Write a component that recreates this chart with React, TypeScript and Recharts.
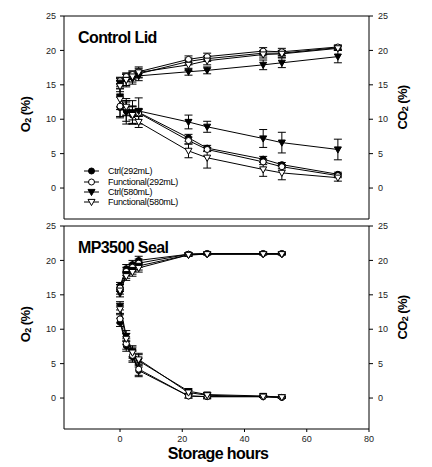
import { LineChart, Line, XAxis, YAxis, ErrorBar, ReferenceLine, Legend } from "recharts";

const FONT = "'Liberation Sans', Arial, sans-serif";

const hoursLid = [0, 2, 4, 6, 22, 28, 46, 52, 70];
const hoursSeal = [0, 2, 4, 6, 22, 28, 46, 52];

const xTicks = [0, 20, 40, 60, 80];
const yTicks = [0, 5, 10, 15, 20, 25];

// Control Lid - O2 (%)
const lidO2Ctrl292 = [15.5, 16.0, 16.3, 16.6, 18.4, 18.8, 19.6, 19.6, 20.4];
const lidO2Func292 = [15.6, 16.2, 16.5, 16.9, 18.7, 19.1, 19.9, 19.8, 20.5];
const lidO2Ctrl580 = [15.3, 15.7, 15.9, 16.3, 16.9, 17.1, 17.9, 18.2, 19.1];
const lidO2Func580 = [14.8, 15.7, 16.2, 16.8, 17.9, 18.5, 19.4, 19.5, 20.3];
const lidO2Ctrl292Err = [0.4, 0.5, 0.5, 0.5, 0.5, 0.4, 0.4, 0.4, 0.3];
const lidO2Func292Err = [0.4, 0.5, 0.5, 0.5, 0.5, 0.5, 0.5, 0.5, 0.3];
const lidO2Ctrl580Err = [0.8, 0.8, 0.8, 0.7, 0.5, 0.5, 0.7, 0.7, 0.9];
const lidO2Func580Err = [0.8, 1.0, 0.8, 0.8, 0.8, 0.6, 0.5, 0.5, 0.3];

// Control Lid - CO2 (%)
const lidCO2Ctrl292 = [11.7, 11.2, 10.6, 11.0, 7.3, 5.8, 4.2, 3.4, 2.0];
const lidCO2Func292 = [11.9, 11.5, 10.9, 10.9, 6.9, 5.6, 3.8, 3.1, 1.8];
const lidCO2Ctrl580 = [13.3, 11.0, 11.0, 11.2, 9.6, 8.9, 7.2, 6.6, 5.6];
const lidCO2Func580 = [12.9, 11.8, 10.6, 9.6, 5.4, 4.4, 2.7, 2.2, 1.5];
const lidCO2Ctrl292Err = [1.5, 1.5, 1.3, 0.5, 0.5, 0.4, 0.4, 0.3, 0.3];
const lidCO2Func292Err = [1.5, 1.0, 1.0, 0.5, 0.5, 0.3, 0.4, 0.3, 0.3];
const lidCO2Ctrl580Err = [1.5, 1.7, 1.7, 1.9, 1.0, 0.8, 1.3, 1.5, 1.5];
const lidCO2Func580Err = [1.5, 1.2, 1.2, 0.8, 1.0, 1.5, 1.0, 1.0, 0.5];

// MP3500 Seal - O2 (%)
const sealO2Ctrl292 = [16.3, 18.8, 19.4, 20.0, 20.9, 21.0, 21.0, 21.0];
const sealO2Func292 = [16.0, 18.4, 19.0, 19.6, 20.9, 21.0, 21.0, 21.0];
const sealO2Ctrl580 = [15.2, 18.0, 18.6, 19.2, 20.8, 20.9, 20.9, 20.9];
const sealO2Func580 = [15.6, 17.7, 18.3, 18.9, 20.8, 20.9, 20.9, 20.9];
const sealO2Err = [0.5, 0.6, 0.6, 0.6, 0.2, 0.1, 0.1, 0.1];

// MP3500 Seal - CO2 (%)
const sealCO2Ctrl292 = [11.0, 7.6, 6.0, 4.0, 0.3, 0.2, 0.2, 0.1];
const sealCO2Func292 = [11.5, 7.9, 6.2, 4.2, 0.3, 0.2, 0.2, 0.1];
const sealCO2Ctrl580 = [13.4, 9.0, 6.8, 5.4, 1.0, 0.5, 0.3, 0.1];
const sealCO2Func580 = [12.9, 8.6, 6.6, 5.6, 0.8, 0.4, 0.2, 0.1];
const sealCO2Err = [0.6, 0.8, 0.8, 0.9, 0.3, 0.3, 0.1, 0.1];

const legendNames = ["Ctrl(292mL)", "Functional(292mL)", "Ctrl(580mL)", "Functional(580mL)"];
const markerKinds = ["fc", "oc", "ft", "ot"];

const toPoints = (hours: number[], vals: number[], errs: number[]) =>
  hours.map((t, i) => ({ t, v: vals[i], e: errs[i] }));

const lidSeries = [
  { id: "lo1", axis: "left", kind: "fc", pts: toPoints(hoursLid, lidO2Ctrl292, lidO2Ctrl292Err) },
  { id: "lo2", axis: "left", kind: "oc", pts: toPoints(hoursLid, lidO2Func292, lidO2Func292Err) },
  { id: "lo3", axis: "left", kind: "ft", pts: toPoints(hoursLid, lidO2Ctrl580, lidO2Ctrl580Err) },
  { id: "lo4", axis: "left", kind: "ot", pts: toPoints(hoursLid, lidO2Func580, lidO2Func580Err) },
  { id: "lc1", axis: "right", kind: "fc", pts: toPoints(hoursLid, lidCO2Ctrl292, lidCO2Ctrl292Err) },
  { id: "lc2", axis: "right", kind: "oc", pts: toPoints(hoursLid, lidCO2Func292, lidCO2Func292Err) },
  { id: "lc3", axis: "right", kind: "ft", pts: toPoints(hoursLid, lidCO2Ctrl580, lidCO2Ctrl580Err) },
  { id: "lc4", axis: "right", kind: "ot", pts: toPoints(hoursLid, lidCO2Func580, lidCO2Func580Err) },
];

const sealSeries = [
  { id: "so1", axis: "left", kind: "fc", pts: toPoints(hoursSeal, sealO2Ctrl292, sealO2Err) },
  { id: "so2", axis: "left", kind: "oc", pts: toPoints(hoursSeal, sealO2Func292, sealO2Err) },
  { id: "so3", axis: "left", kind: "ft", pts: toPoints(hoursSeal, sealO2Ctrl580, sealO2Err) },
  { id: "so4", axis: "left", kind: "ot", pts: toPoints(hoursSeal, sealO2Func580, sealO2Err) },
  { id: "sc1", axis: "right", kind: "fc", pts: toPoints(hoursSeal, sealCO2Ctrl292, sealCO2Err) },
  { id: "sc2", axis: "right", kind: "oc", pts: toPoints(hoursSeal, sealCO2Func292, sealCO2Err) },
  { id: "sc3", axis: "right", kind: "ft", pts: toPoints(hoursSeal, sealCO2Ctrl580, sealCO2Err) },
  { id: "sc4", axis: "right", kind: "ot", pts: toPoints(hoursSeal, sealCO2Func580, sealCO2Err) },
];

function Marker({ kind, cx, cy }: { kind: string; cx: number; cy: number }) {
  if (cx == null || cy == null) return null;
  const fill = kind === "fc" || kind === "ft" ? "#000" : "#fff";
  if (kind === "fc" || kind === "oc") {
    return <circle cx={cx} cy={cy} r={3} fill={fill} stroke="#000" strokeWidth={1} />;
  }
  const pts = `${cx - 3.5},${cy - 2.6} ${cx + 3.5},${cy - 2.6} ${cx},${cy + 3.6}`;
  return <polygon points={pts} fill={fill} stroke="#000" strokeWidth={1} />;
}

function AxisTitle(props: any) {
  const { viewBox, gas, dx, dy } = props;
  const x = viewBox.x + dx;
  const y = viewBox.y + viewBox.height / 2 + dy;
  return (
    <text
      x={x}
      y={y}
      transform={`rotate(-90, ${x}, ${y})`}
      textAnchor="middle"
      dominantBaseline="central"
      fontFamily={FONT}
      fontWeight="bold"
      fontSize={13}
      letterSpacing={-0.6}
      fill="#000"
    >
      {gas}
      <tspan fontSize={9} dy={3}>2</tspan>
      <tspan dy={-3}> (%)</tspan>
    </text>
  );
}

function LegendBox() {
  return (
    <div style={{ fontFamily: FONT, fontSize: 9, color: "#000" }}>
      {legendNames.map((name, i) => (
        <div key={name} style={{ display: "flex", alignItems: "center", height: 10.4 }}>
          <svg width={22} height={10}>
            <line x1={0} y1={5} x2={15} y2={5} stroke="#000" strokeWidth={1} />
            <Marker kind={markerKinds[i]} cx={7.5} cy={5} />
          </svg>
          <span style={{ marginLeft: 2, letterSpacing: -0.3 }}>{name}</span>
        </div>
      ))}
    </div>
  );
}

const tickStyle = { fontSize: 9, fill: "#222", fontFamily: FONT };

function Panel({ series, height, bottom, showX, withLegend }: any) {
  return (
    <LineChart width={432} height={height} margin={{ top: 16, right: 0, bottom, left: 0 }}>
      <XAxis
        type="number"
        dataKey="t"
        domain={[-18, 80]}
        ticks={xTicks}
        allowDataOverflow
        height={showX ? 38 : 3}
        tick={showX ? tickStyle : false}
        tickSize={3}
        tickMargin={4}
        axisLine={{ stroke: "#000" }}
        tickLine={{ stroke: "#000" }}
      />
      <YAxis
        yAxisId="left"
        type="number"
        domain={[-4.5, 25]}
        ticks={yTicks}
        allowDataOverflow
        width={64}
        tick={tickStyle}
        tickSize={4}
        tickMargin={4}
        axisLine={{ stroke: "#000" }}
        tickLine={{ stroke: "#000" }}
        label={<AxisTitle gas="O" dx={25} dy={-3} />}
      />
      <YAxis
        yAxisId="right"
        orientation="right"
        type="number"
        domain={[-4.5, 25]}
        ticks={yTicks}
        allowDataOverflow
        width={63}
        tick={{ ...tickStyle, textAnchor: "start" }}
        tickSize={4}
        tickMargin={5}
        axisLine={{ stroke: "#000" }}
        tickLine={{ stroke: "#000" }}
        label={<AxisTitle gas="CO" dx={33} dy={-10} />}
      />
      <ReferenceLine yAxisId="left" y={25} stroke="#000" strokeWidth={1} />
      {series.map((s: any) => (
        <Line
          key={s.id}
          data={s.pts}
          dataKey="v"
          yAxisId={s.axis}
          type="linear"
          stroke="#000"
          strokeWidth={1}
          isAnimationActive={false}
          dot={(p: any) => <Marker key={`${s.id}-${p.index}`} kind={s.kind} cx={p.cx} cy={p.cy} />}
          activeDot={false}
          legendType="none"
        >
          <ErrorBar dataKey="e" direction="y" width={4} stroke="#000" strokeWidth={1} isAnimationActive={false} />
        </Line>
      ))}
      {withLegend && (
        <Legend
          layout="vertical"
          align="center"
          verticalAlign="middle"
          content={() => <LegendBox />}
          wrapperStyle={{ left: 84, top: 166, width: 120, height: 44 }}
        />
      )}
    </LineChart>
  );
}

export default function App() {
  const title = {
    position: "absolute" as const,
    fontFamily: FONT,
    fontWeight: "bold" as const,
    fontSize: 16,
    lineHeight: "16px",
    letterSpacing: -0.6,
    color: "#000",
  };
  return (
    <div style={{ position: "absolute", left: 0, top: 0, width: 432, height: 467, background: "#fff" }}>
      <div style={{ position: "absolute", left: 0, top: 0 }}>
        <Panel series={lidSeries} height={225} bottom={3} showX={false} withLegend />
      </div>
      <div style={{ position: "absolute", left: 0, top: 210 }}>
        <Panel series={sealSeries} height={257} bottom={0} showX withLegend={false} />
      </div>
      <div style={{ ...title, left: 78, top: 30 }}>Control Lid</div>
      <div style={{ ...title, left: 78, top: 240 }}>MP3500 Seal</div>
      <div style={{ ...title, left: 0, width: 436, textAlign: "center", top: 446 }}>Storage hours</div>
    </div>
  );
}
